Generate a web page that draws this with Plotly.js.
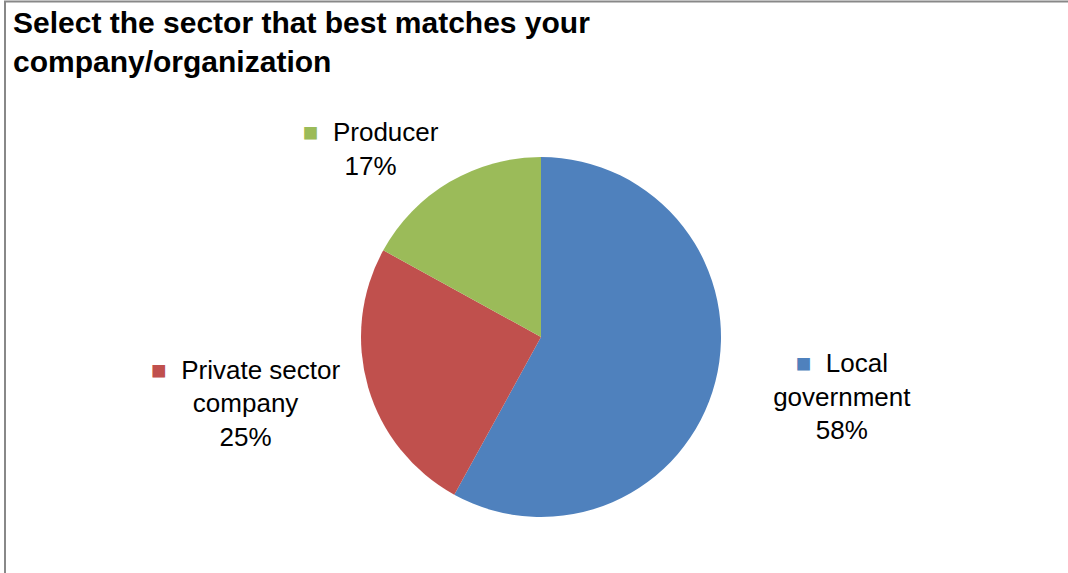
<!DOCTYPE html>
<html>
<head>
<meta charset="utf-8">
<script src="https://cdn.plot.ly/plotly-3.0.1.min.js"></script>
<style>html,body{margin:0;padding:0;background:#fff;}#chart{width:1068px;height:573px;}</style>
</head>
<body>
<div id="chart"></div>
<script>
// Data
var categories = ['Local government', 'Private sector company', 'Producer'];
var wrappedNames = ['Local<br>government', 'Private sector<br>company', 'Producer'];
var shares = [58, 25, 17];
var colors = ['#4F81BD', '#C0504D', '#9BBB59'];
var titleText = 'Select the sector that best matches your<br>company/organization';

var labelText = wrappedNames.map(function (n, i) {
  return '<span style="color:' + colors[i] + ';font-size:26px">■</span>  ' + n;
});

var FONT = '"Liberation Sans", Arial, sans-serif';
var W = 1068, H = 573;
// pie geometry (pixels)
var cx = 541, cy = 337, R = 180;
// geometry of the transparent twin pie that carries the outside labels
var lcx = 556, lcy = 344, RL = 199;

function dom(x, y, r) {
  return {x: [(x - r) / W, (x + r) / W], y: [(H - y - r) / H, (H - y + r) / H]};
}

// visible pie
var pie = {
  type: 'pie',
  labels: categories,
  values: shares,
  sort: false,
  direction: 'clockwise',
  rotation: 0,
  marker: {colors: colors, line: {color: '#ffffff', width: 0}},
  textinfo: 'none',
  hoverinfo: 'label+percent',
  domain: dom(cx, cy, R),
  automargin: false,
  showlegend: false
};

// transparent twin pie that places the data labels
var labelPie = {
  type: 'pie',
  labels: categories,
  values: shares,
  text: labelText,
  sort: false,
  direction: 'clockwise',
  rotation: 0,
  marker: {colors: ['rgba(0,0,0,0)', 'rgba(0,0,0,0)', 'rgba(0,0,0,0)'], line: {width: 0}},
  textposition: 'outside',
  texttemplate: '%{text}<br>%{percent}',
  outsidetextfont: {family: FONT, size: 26, color: '#000000'},
  hoverinfo: 'skip',
  domain: dom(lcx, lcy, RL),
  automargin: false,
  showlegend: false
};

var layout = {
  width: W,
  height: H,
  margin: {l: 0, r: 0, t: 0, b: 0},
  paper_bgcolor: '#ffffff',
  plot_bgcolor: '#ffffff',
  font: {family: FONT, color: '#000000'},
  title: {
    text: '<b>' + titleText + '</b>',
    font: {family: FONT, size: 30, color: '#000000'},
    xref: 'container', yref: 'container',
    x: 13 / W, xanchor: 'left',
    y: 1 - 33 / H, yanchor: 'top'
  },
  shapes: [{
    type: 'rect', xref: 'paper', yref: 'paper',
    x0: 5 / W, x1: 1.02, y0: -0.02, y1: 1 - 1.5 / H,
    line: {color: '#888888', width: 2}, fillcolor: 'rgba(0,0,0,0)', layer: 'below'
  }]
};

Plotly.newPlot('chart', [pie, labelPie], layout, {displayModeBar: false, staticPlot: true});
</script>
</body>
</html>
